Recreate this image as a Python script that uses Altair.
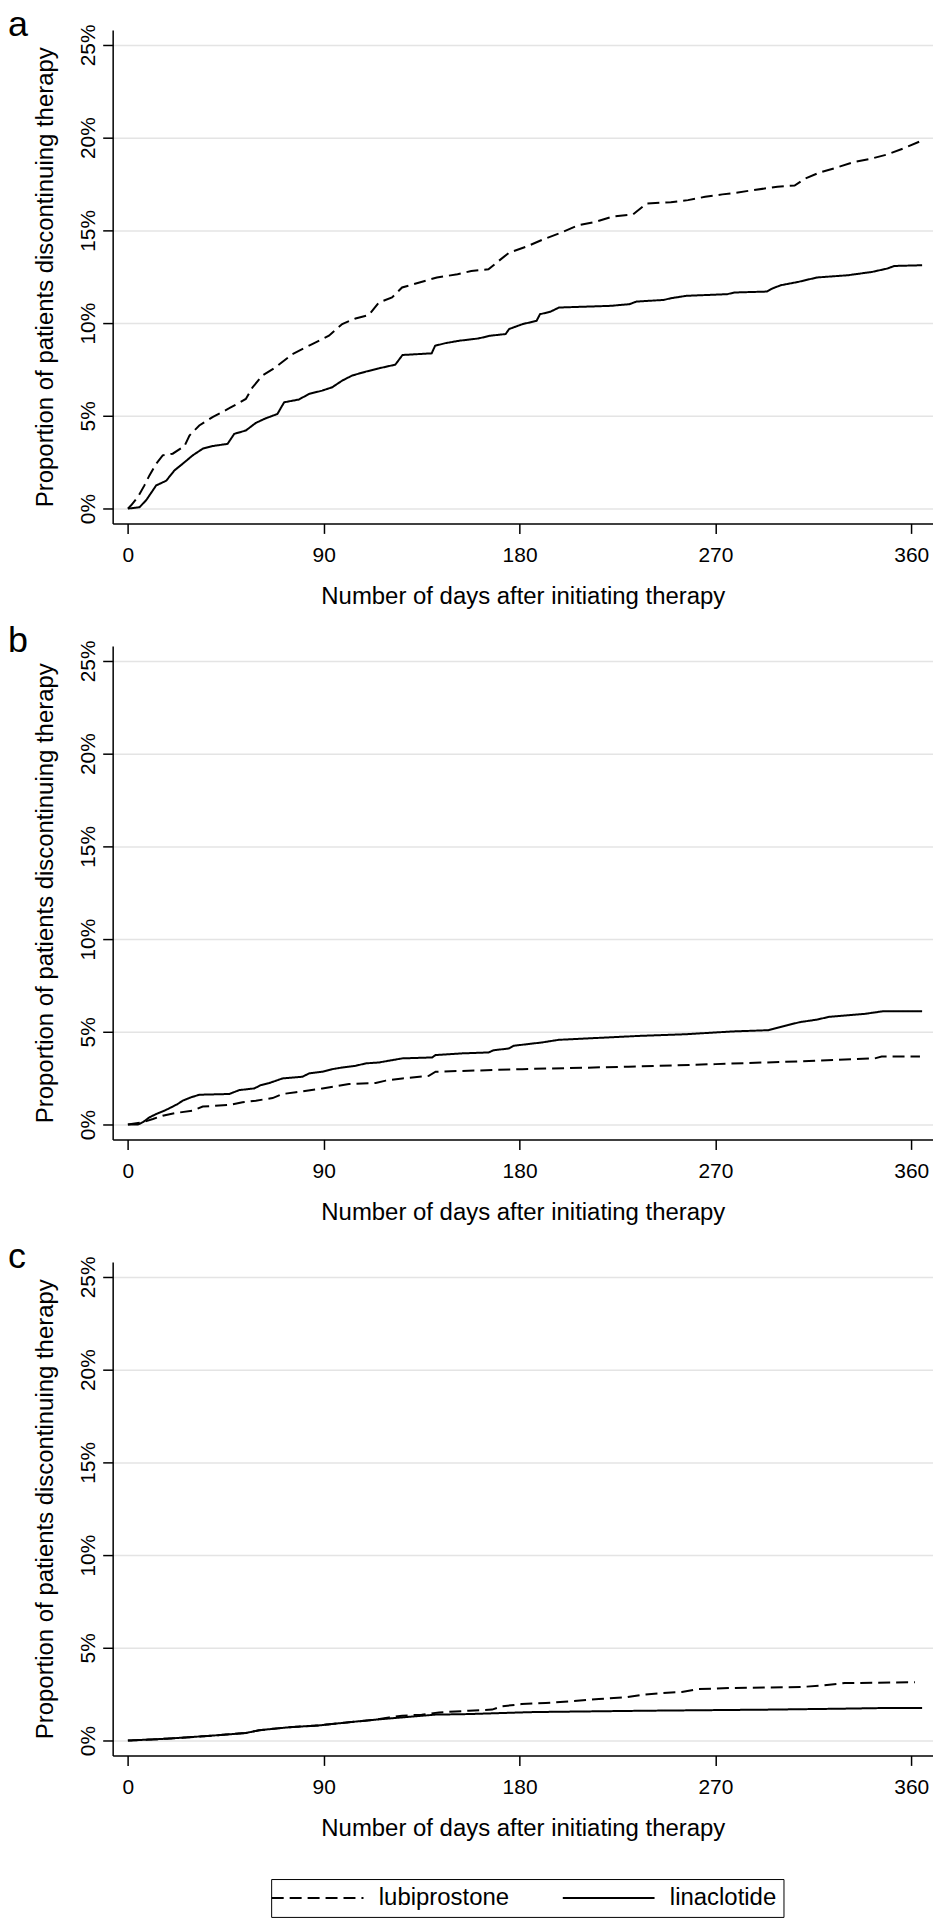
import altair as alt
import pandas as pd

FONT = "Liberation Sans"
DRUGS = ["lubiprostone", "linaclotide"]
X_TICKS = [0, 90, 180, 270, 360]
Y_TICKS = [0, 5, 10, 15, 20, 25]
PANEL_LABELS = ["a", "b", "c"]
Y_TITLE = "Proportion of patients discontinuing therapy"
X_TITLE = "Number of days after initiating therapy"

# ---- panel a ----
a_lub_day = [0, 1.5, 4.6, 7.6, 9.9, 13, 16, 20.6, 26, 28.3, 32.8, 38.9, 46.6, 54.2, 57.3, 61.8,
             67.9, 75.6, 84.7, 92.4, 98.5, 104.6, 110.7, 115.3, 121.4, 126, 134, 142, 151.5,
             157.8, 165.7, 170.4, 175.2, 183.1, 191, 198.9, 206.8, 214.7, 222.6, 232.1, 238.4,
             249.5, 257.4, 265.3, 273.2, 279.5, 287.4, 298.5, 306.4, 311.1, 317.5, 325.3, 333.3,
             341.1, 349, 356.9, 364.1]
a_lub_pct = [0, 0.18, 0.63, 1.25, 1.79, 2.42, 2.87, 2.96, 3.37, 3.94, 4.48, 4.93, 5.41, 5.91, 6.54,
             7.17, 7.62, 8.33, 8.87, 9.32, 9.95, 10.25, 10.43, 11.11, 11.38, 11.92, 12.19, 12.46,
             12.63, 12.81, 12.9, 13.35, 13.8, 14.12, 14.52, 14.87, 15.27, 15.45, 15.74, 15.86,
             16.45, 16.52, 16.63, 16.81, 16.94, 17.03, 17.17, 17.35, 17.42, 17.78, 18.1, 18.37,
             18.67, 18.85, 19.09, 19.44, 19.8]
a_lin_day = [0, 5.3, 8.4, 13, 17.6, 21.4, 25.2, 29.8, 34.4, 38.9, 45.8, 48.9, 54.2, 58.8, 63.4,
             68.7, 71.8, 78.6, 83.2, 89.3, 93.9, 98.5, 103, 109.2, 115.3, 122.9, 126.2, 139.6,
             141.2, 146, 152.3, 161, 166.5, 173.6, 175.2, 181.5, 187.8, 189.4, 194.1, 198.1,
             221.8, 230.5, 233.7, 246.3, 249.5, 256.6, 275.5, 278.7, 293.7, 296.1, 300, 308,
             316.7, 330.9, 342, 349, 352.2, 365]
a_lin_pct = [0, 0.07, 0.45, 1.25, 1.5, 2.06, 2.42, 2.87, 3.23, 3.37, 3.49, 4.03, 4.21, 4.62, 4.87,
             5.1, 5.73, 5.88, 6.18, 6.36, 6.54, 6.9, 7.17, 7.38, 7.56, 7.76, 8.28, 8.37, 8.78,
             8.92, 9.05, 9.17, 9.32, 9.41, 9.68, 9.95, 10.12, 10.48, 10.61, 10.84, 10.93, 11.02,
             11.16, 11.25, 11.34, 11.47, 11.56, 11.65, 11.7, 11.86, 12.04, 12.22, 12.46, 12.58,
             12.76, 12.94, 13.08, 13.12]

# ---- panel b ----
b_lub_day = [0, 6.9, 11.5, 16, 22.2, 29.8, 34.4, 46.6, 52.7, 58.8, 66.5, 71.1, 77.2, 89.4, 101.6,
             113.9, 118.5, 126.1, 138.3, 141.4, 181.2, 230, 270, 315.8, 343.3, 346.4, 364]
b_lub_pct = [0, 0.13, 0.3, 0.48, 0.63, 0.75, 0.97, 1.06, 1.2, 1.29, 1.43, 1.65, 1.74, 1.95, 2.19,
             2.24, 2.37, 2.49, 2.63, 2.85, 2.99, 3.12, 3.26, 3.44, 3.57, 3.67, 3.67]
b_lin_day = [0, 4.6, 6.9, 9.9, 13, 16.8, 19.9, 22.9, 25.2, 29, 32.9, 46.6, 51.2, 58.1, 61.1, 65,
             71.1, 80.2, 83.3, 89.4, 94, 98.6, 104.7, 109.3, 115.4, 126.1, 139.8, 141.4, 153.6,
             165.8, 168.1, 175, 177.3, 190.4, 198, 234.7, 256.1, 277.6, 294.4, 299, 308.6, 316.7,
             322.3, 338.7, 347, 365]
b_lin_pct = [0, 0, 0.13, 0.39, 0.57, 0.75, 0.93, 1.11, 1.29, 1.47, 1.61, 1.65, 1.86, 1.95, 2.13,
             2.24, 2.49, 2.58, 2.76, 2.85, 2.99, 3.08, 3.17, 3.3, 3.35, 3.57, 3.62, 3.75, 3.84,
             3.89, 4.01, 4.1, 4.25, 4.43, 4.57, 4.78, 4.87, 5.02, 5.09, 5.23, 5.52, 5.66, 5.81,
             5.97, 6.11, 6.11]

# ---- panel c ----
c_lub_day = [0, 19.1, 39, 54.3, 60.4, 74.1, 87.9, 101.6, 113.9, 120, 126, 135, 143, 156.7, 167.4,
             172, 181, 192, 202.6, 216.4, 228.6, 236.3, 245.4, 254.6, 262.3, 276, 309.7, 318.8,
             329.5, 361.7]
c_lub_pct = [0, 0.11, 0.27, 0.41, 0.56, 0.72, 0.82, 0.99, 1.13, 1.25, 1.34, 1.4, 1.52, 1.61, 1.67,
             1.85, 1.97, 2.03, 2.11, 2.24, 2.33, 2.47, 2.56, 2.62, 2.78, 2.83, 2.89, 2.97, 3.1,
             3.15]
c_lin_day = [0, 19.1, 39, 54.3, 60.4, 74.1, 87.9, 101.6, 113.9, 126.1, 141.4, 156.7, 181.1, 187.3,
             237.8, 294.4, 328, 349.4, 365]
c_lin_pct = [0, 0.11, 0.27, 0.41, 0.56, 0.72, 0.82, 0.99, 1.13, 1.25, 1.4, 1.43, 1.52, 1.54,
             1.61, 1.67, 1.72, 1.76, 1.76]

PANELS = [
    (a_lub_day, a_lub_pct, a_lin_day, a_lin_pct),
    (b_lub_day, b_lub_pct, b_lin_day, b_lin_pct),
    (c_lub_day, c_lub_pct, c_lin_day, c_lin_pct),
]

W, H = 823, 495


def make_panel(label, lub_d, lub_p, lin_d, lin_p):
    df = pd.concat([
        pd.DataFrame({"day": lub_d, "pct": lub_p, "drug": DRUGS[0]}),
        pd.DataFrame({"day": lin_d, "pct": lin_p, "drug": DRUGS[1]}),
    ], ignore_index=True)
    return alt.Chart(df).mark_line(
        interpolate="linear", color="black", strokeWidth=2
    ).encode(
        x=alt.X("day:Q",
                scale=alt.Scale(domain=[-7, 370], nice=False, zero=False),
                axis=alt.Axis(values=X_TICKS, title=X_TITLE, grid=False, labelFlush=False,
                              labelOverlap=False, labelPadding=11, titlePadding=19)),
        y=alt.Y("pct:Q",
                scale=alt.Scale(domain=[-0.8, 25.8], nice=False, zero=False),
                axis=alt.Axis(values=Y_TICKS, title=Y_TITLE, grid=True,
                              labelExpr="datum.value + '%'", labelAngle=270,
                              labelAlign="center", labelBaseline="alphabetic",
                              labelPadding=8, titlePadding=20, labelOverlap=False,
                              labelFlush=False)),
        strokeDash=alt.StrokeDash(
            "drug:N",
            scale=alt.Scale(domain=DRUGS, range=[[12, 6], [1, 0]]),
            legend=alt.Legend(title=None, orient="none", legendX=159, legendY=1855,
                              direction="horizontal", symbolType="M-2,0H8",
                              symbolSize=339, symbolStrokeWidth=2,
                              symbolStrokeColor="black", symbolFillColor="transparent",
                              labelFontSize=24, labelFont=FONT, labelColor="black",
                              labelOffset=77, columnPadding=49, padding=7,
                              strokeColor="black"),
        ),
        detail="drug:N",
    ).properties(
        width=W, height=H,
        title=alt.TitleParams(text=label, anchor="start", frame="group", fontSize=36,
                              font=FONT, fontWeight="normal", color="black", dx=-105,
                              offset=-48, baseline="alphabetic"),
    )


panels = [make_panel(PANEL_LABELS[i], *PANELS[i]) for i in range(3)]

chart = alt.vconcat(*panels, spacing=14).properties(
    padding={"left": 0, "top": -5, "right": 0, "bottom": 0}
).configure_view(stroke=None).configure_axis(
    domainColor="black", domainWidth=1.5, tickColor="black", tickWidth=1.5, tickSize=10,
    labelFont=FONT, labelFontSize=21, labelColor="black",
    titleFont=FONT, titleFontSize=24, titleFontWeight="normal", titleColor="black",
    gridColor="#e4e4e4", gridWidth=1.5,
)

chart.save("out.html", embed_options={"renderer": "svg", "actions": False})
